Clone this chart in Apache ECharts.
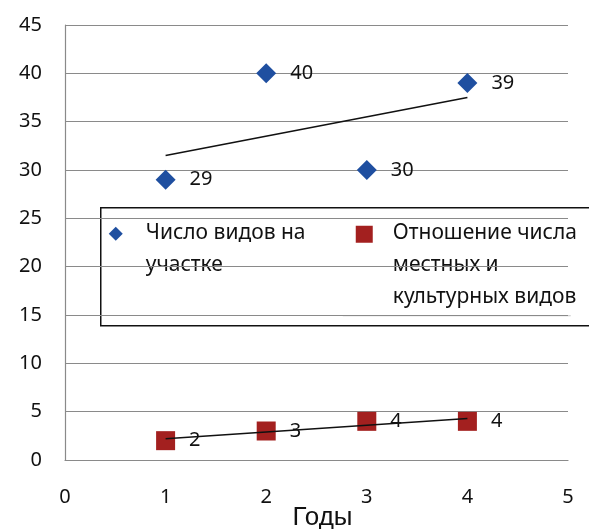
<!DOCTYPE html>
<html>
<head>
<meta charset="utf-8">
<script src="https://cdn.jsdelivr.net/npm/echarts@6/dist/echarts.min.js"></script>
<style>
  html, body { margin: 0; padding: 0; background: #fff; }
  #chart { width: 589px; height: 529px; }
</style>
</head>
<body>
<div id="chart"></div>
<script>
// Years of observation
const years = [1, 2, 3, 4];
// Number of species on the plot
const speciesCount = [29, 40, 30, 39];
// Ratio of native to cultivated species
const nativeRatio = [2, 3, 4, 4];
const xTicks = [0, 1, 2, 3, 4, 5];
const yTicks = [0, 5, 10, 15, 20, 25, 30, 35, 40, 45];

const seriesNames = ['Число видов на\nучастке', 'Отношение числа\nместных и\nкультурных видов'];

// Least-squares linear trend evaluated at the first and last year
function trend(xs, ys) {
  const n = xs.length;
  const mx = xs.reduce((a, b) => a + b, 0) / n;
  const my = ys.reduce((a, b) => a + b, 0) / n;
  let sxy = 0, sxx = 0;
  for (let i = 0; i < n; i++) {
    sxy += (xs[i] - mx) * (ys[i] - my);
    sxx += (xs[i] - mx) * (xs[i] - mx);
  }
  const k = sxy / sxx, b = my - k * mx;
  const x0 = xs[0], x1 = xs[n - 1];
  return [[x0, k * x0 + b], [x1, k * x1 + b]];
}

const BLUE = '#1f4fa0';
const RED = '#a3201f';
const INK = '#111';
const FONT = '"Noto Sans", "Open Sans", sans-serif';

const chart = echarts.init(document.getElementById('chart'));

const labelStyle = {
  show: true,
  position: 'right',
  distance: 14,
  fontFamily: FONT,
  fontSize: 20,
  color: INK,
  formatter: p => p.value[1]
};

chart.setOption({
  animation: false,
  grid: { left: 65, right: 21, top: 25, bottom: 69, containLabel: false, outerBoundsMode: 'none' },
  xAxis: {
    type: 'value',
    min: xTicks[0],
    max: xTicks[xTicks.length - 1],
    interval: 1,
    name: 'Годы',
    nameLocation: 'middle',
    nameGap: 45,
    nameMoveOverlap: false,
    nameTextStyle: { fontFamily: '"Liberation Sans", Arial, sans-serif', fontSize: 26, color: INK, padding: [0, 0, 0, 12] },
    axisLine: { show: true, lineStyle: { color: '#8a8a8a', width: 1.2 } },
    axisTick: { show: false },
    splitLine: { show: false },
    axisLabel: { margin: 27, fontFamily: FONT, fontSize: 20, color: INK }
  },
  yAxis: {
    type: 'value',
    min: yTicks[0],
    max: yTicks[yTicks.length - 1],
    interval: 5,
    axisLine: { show: true, lineStyle: { color: '#8a8a8a', width: 1.2 } },
    axisTick: { show: false },
    splitLine: { show: true, lineStyle: { color: '#8a8a8a', width: 1.2 } },
    axisLabel: { margin: 23, fontFamily: FONT, fontSize: 20, color: INK }
  },
  series: [
    {
      name: seriesNames[0],
      type: 'scatter',
      symbol: 'diamond',
      symbolSize: [20, 20],
      itemStyle: { color: BLUE, opacity: 1 },
      label: labelStyle,
      data: years.map((x, i) => [x, speciesCount[i]]),
      z: 3
    },
    {
      name: seriesNames[1],
      type: 'scatter',
      symbol: 'rect',
      symbolSize: 19,
      itemStyle: { color: RED, opacity: 1 },
      label: labelStyle,
      data: years.map((x, i) => [x, nativeRatio[i]]),
      z: 3
    },
    {
      type: 'line',
      data: trend(years, speciesCount),
      symbol: 'none',
      lineStyle: { color: INK, width: 1.5 },
      silent: true,
      z: 4
    },
    {
      type: 'line',
      data: trend(years, nativeRatio),
      symbol: 'none',
      lineStyle: { color: INK, width: 1.5 },
      silent: true,
      z: 4
    }
  ],
  graphic: [
    {
      type: 'group',
      left: 100,
      top: 207,
      z: 100,
      children: [
        { type: 'rect', shape: { x: 0, y: 0, width: 500, height: 118 }, style: { fill: '#fff', stroke: INK, lineWidth: 1.5 } },
        { type: 'polygon', shape: { points: [[15, 19], [22, 26], [15, 33], [8, 26]] }, style: { fill: BLUE } },
        { type: 'text', left: 45, top: 9, style: { text: seriesNames[0], font: '21px ' + FONT, lineHeight: 32, fill: INK } },
        { type: 'rect', shape: { x: 255, y: 18, width: 17, height: 17 }, style: { fill: RED } },
        { type: 'text', left: 292, top: 9, style: { text: seriesNames[1], font: '21px ' + FONT, lineHeight: 32, fill: INK } },
        { type: 'line', shape: { x1: 242, y1: 108, x2: 470, y2: 108 }, style: { stroke: '#c8c8c8', lineWidth: 1 } }
      ]
    }
  ]
});
</script>
</body>
</html>
